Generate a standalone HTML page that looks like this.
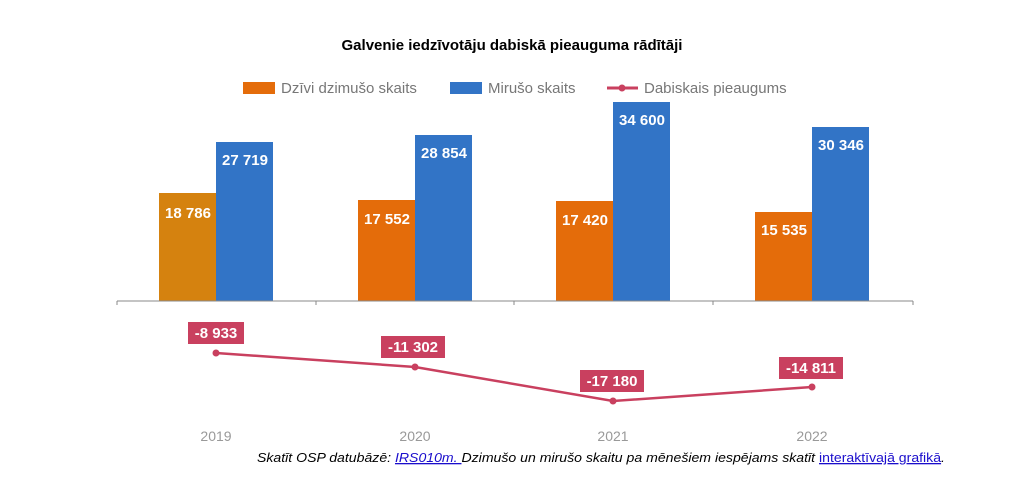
<!DOCTYPE html><html><head><meta charset="utf-8"><style>body{margin:0;background:#fff}svg{display:block;font-family:"Liberation Sans",Arial,sans-serif}</style></head><body>
<svg width="1024" height="477" viewBox="0 0 1024 477">
<text x="512" y="50" text-anchor="middle" font-size="15" font-weight="bold" fill="#000">Galvenie iedzīvotāju dabiskā pieauguma rādītāji</text>
<rect x="243" y="82" width="32" height="12" fill="#e46c0a"/><text x="281" y="93" font-size="15" fill="#777">Dzīvi dzimušo skaits</text>
<rect x="450" y="82" width="32" height="12" fill="#3274c6"/><text x="488" y="93" font-size="15" fill="#777">Mirušo skaits</text>
<line x1="607" y1="88" x2="638" y2="88" stroke="#c9405f" stroke-width="3"/><circle cx="622" cy="88" r="3.5" fill="#c9405f"/><text x="644" y="93" font-size="15" fill="#777">Dabiskais pieaugums</text>
<g fill="#e46c0a"><rect x="159" y="193" width="57" height="108" fill="#d5820f"/><rect x="358" y="200" width="57" height="101"/><rect x="556" y="201" width="57" height="100"/><rect x="755" y="212" width="57" height="89"/></g>
<g fill="#3274c6"><rect x="216" y="142" width="57" height="159"/><rect x="415" y="135" width="57" height="166"/><rect x="613" y="102" width="57" height="199"/><rect x="812" y="127" width="57" height="174"/></g>
<g font-size="15" font-weight="bold" fill="#fff" text-anchor="middle">
<text x="188" y="218">18 786</text><text x="387" y="224">17 552</text><text x="585" y="225">17 420</text><text x="784" y="235">15 535</text>
<text x="245" y="165">27 719</text><text x="444" y="158">28 854</text><text x="642" y="125">34 600</text><text x="841" y="150">30 346</text></g>
<line x1="117" y1="301" x2="913" y2="301" stroke="#888" stroke-width="1"/>
<g stroke="#888"><line x1="117" y1="301" x2="117" y2="305"/><line x1="316" y1="301" x2="316" y2="305"/><line x1="514" y1="301" x2="514" y2="305"/><line x1="713" y1="301" x2="713" y2="305"/><line x1="913" y1="301" x2="913" y2="305"/></g>
<polyline points="216,353 415,367 613,401 812,387" fill="none" stroke="#c9405f" stroke-width="2.5"/>
<g fill="#c9405f"><circle cx="216" cy="353" r="3.5"/><circle cx="415" cy="367" r="3.5"/><circle cx="613" cy="401" r="3.5"/><circle cx="812" cy="387" r="3.5"/>
<rect x="188" y="322" width="56" height="22"/><rect x="381" y="336" width="64" height="22"/><rect x="580" y="370" width="64" height="22"/><rect x="779" y="357" width="64" height="22"/></g>
<g font-size="15" font-weight="bold" fill="#fff" text-anchor="middle"><text x="216" y="338">-8 933</text><text x="413" y="352">-11 302</text><text x="612" y="386">-17 180</text><text x="811" y="373">-14 811</text></g>
<g font-size="14" fill="#999" text-anchor="middle"><text x="216" y="441">2019</text><text x="415" y="441">2020</text><text x="613" y="441">2021</text><text x="812" y="441">2022</text></g>
<text x="257" y="462" font-size="13" font-style="italic" fill="#000" textLength="688" lengthAdjust="spacingAndGlyphs">Skatīt OSP datubāzē: <tspan fill="#1a0dcc" text-decoration="underline">IRS010m. </tspan>Dzimušo un mirušo skaitu pa mēnešiem iespējams skatīt <tspan fill="#1a0dcc" text-decoration="underline" font-style="normal">interaktīvajā grafikā</tspan>.</text>
</svg></body></html>
